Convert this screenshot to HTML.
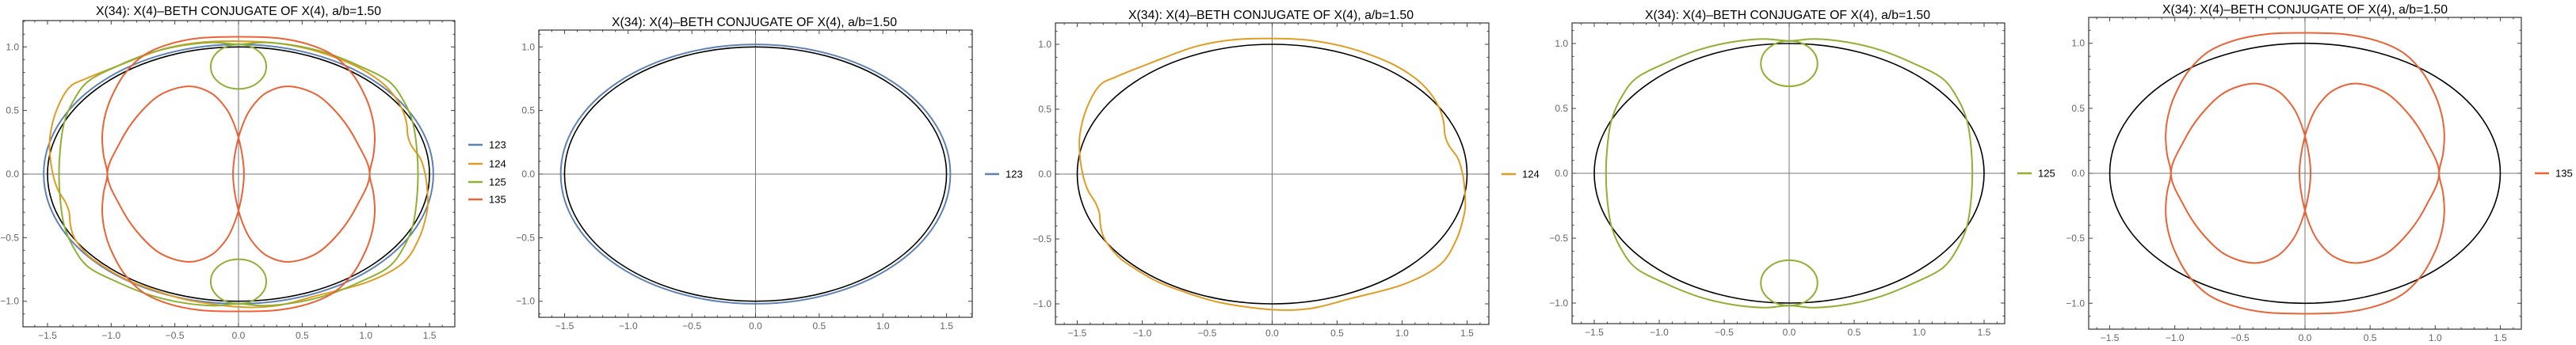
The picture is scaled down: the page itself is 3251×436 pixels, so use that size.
<!DOCTYPE html>
<html><head><meta charset="utf-8"><style>
html,body{margin:0;padding:0;background:#fff;}
svg{display:block;}
text{font-family:"Liberation Sans",sans-serif;}
</style></head><body>
<svg id="chart" width="3251" height="436" viewBox="0 0 3251 436" xmlns="http://www.w3.org/2000/svg"></svg>
<script>
// ---- data ----
const titleText = "X(34): X(4)\u2013BETH CONJUGATE OF X(4), a/b=1.50";
const seriesNames = ["123", "124", "125", "135"];
const seriesColors = {"123": "#5E81B5", "124": "#E19C24", "125": "#8FB032", "135": "#EB6235"};
const baseEllipse = [1.5, 1.0];
const ellipse123 = [1.53, 1.02];
const curve124 = [[1.466,0],[1.43,0.12],[1.36,0.22],[1.33,0.3],[1.32,0.4],[1.29,0.5],[1.22,0.62],[1.1,0.74],[0.9,0.86],[0.6,0.97],[0.3,1.03],[0,1.045],[-0.3,1.035],[-0.6,0.98],[-0.95,0.85],[-1.2,0.75],[-1.33,0.68],[-1.43,0.5],[-1.48,0.3],[-1.48,0.15],[-1.458,0],[-1.42,-0.12],[-1.36,-0.22],[-1.33,-0.3],[-1.32,-0.4],[-1.29,-0.5],[-1.2,-0.62],[-1.1,-0.7],[-0.9,-0.82],[-0.7,-0.9],[-0.4,-0.99],[0,-1.045],[0.3,-1.035],[0.6,-0.96],[1.01,-0.85],[1.29,-0.7],[1.42,-0.5],[1.48,-0.3],[1.486,-0.2],[1.48,-0.1]];
const curve125Outer = [[0,1.02],[0.2,1.035],[0.45,1.01],[0.7,0.95],[0.95,0.85],[1.18,0.73],[1.3,0.57],[1.37,0.4],[1.40,0.2],[1.41,0],[1.40,-0.2],[1.37,-0.4],[1.3,-0.57],[1.18,-0.73],[0.95,-0.85],[0.7,-0.95],[0.45,-1.01],[0.2,-1.035],[0,-1.02],[-0.2,-1.035],[-0.45,-1.01],[-0.7,-0.95],[-0.95,-0.85],[-1.18,-0.73],[-1.3,-0.57],[-1.37,-0.4],[-1.40,-0.2],[-1.41,0],[-1.40,0.2],[-1.37,0.4],[-1.3,0.57],[-1.18,0.73],[-0.95,0.85],[-0.7,0.95],[-0.45,1.01],[-0.2,1.035]];
const loops125 = [[0, 0.845, 0.218, 0.175], [0, -0.845, 0.218, 0.175]];
const curve135Outer = [[0,1.08],[0.3,1.07],[0.55,1.02],[0.75,0.93],[0.9,0.78],[1.0,0.6],[1.05,0.45],[1.07,0.3],[1.06,0.15],[1.03,0],[1.06,-0.15],[1.07,-0.3],[1.05,-0.45],[1.0,-0.6],[0.9,-0.78],[0.75,-0.93],[0.55,-1.02],[0.3,-1.07],[0,-1.08],[-0.3,-1.07],[-0.55,-1.02],[-0.75,-0.93],[-0.9,-0.78],[-1.0,-0.6],[-1.05,-0.45],[-1.07,-0.3],[-1.06,-0.15],[-1.03,0],[-1.06,0.15],[-1.07,0.3],[-1.05,0.45],[-1.0,0.6],[-0.9,0.78],[-0.75,0.93],[-0.55,1.02],[-0.3,1.07]];
const curve135RightLobe = [[1.03,0],[0.93,0.25],[0.8,0.45],[0.62,0.62],[0.4,0.69],[0.22,0.64],[0.1,0.52],[0.03,0.38],[-0.02,0.2],[-0.043,0],[-0.02,-0.2],[0.03,-0.38],[0.1,-0.52],[0.22,-0.64],[0.4,-0.69],[0.62,-0.62],[0.8,-0.45],[0.93,-0.25]];
const curve135LeftLobe = [[-1.03,0],[-0.93,0.25],[-0.8,0.45],[-0.62,0.62],[-0.4,0.69],[-0.22,0.64],[-0.1,0.52],[-0.03,0.38],[0.02,0.2],[0.043,0],[0.02,-0.2],[-0.03,-0.38],[-0.1,-0.52],[-0.22,-0.64],[-0.4,-0.69],[-0.62,-0.62],[-0.8,-0.45],[-0.93,-0.25]];
const panelSeries = [["123","124","125","135"],["123"],["124"],["125"],["135"]];

// ---- layout ----
const panels = [
 {L:29,R:574,T:26,B:413,x0:301,y0:220,s:160.7,lx:591,ly:[183,207,230,252],tx:301,ty:19},
 {L:680,R:1227,T:38,B:401,x0:953.5,y0:220,s:160.7,lx:1243,ly:[220],tx:952,ty:33},
 {L:1332,R:1879,T:29,B:410,x0:1605.5,y0:220,s:164,lx:1895,ly:[220],tx:1604,ty:24},
 {L:1984,R:2530,T:29,B:409,x0:2258,y0:219,s:164,lx:2546,ly:[219],tx:2256,ty:24},
 {L:2636,R:3182,T:22,B:416,x0:2909,y0:219,s:164.3,lx:3199,ly:[219],tx:2909,ty:17}
];
const NS = "http://www.w3.org/2000/svg";
const svg = document.getElementById("chart");
function mk(tag, attrs, parent){const e=document.createElementNS(NS,tag);for(const k in attrs)e.setAttribute(k,attrs[k]);parent.appendChild(e);return e;}
function smoothClosed(pts, X, Y){
  const n=pts.length;const P=pts.map(p=>[X(p[0]),Y(p[1])]);
  let d="M"+P[0][0].toFixed(2)+","+P[0][1].toFixed(2);
  for(let i=0;i<n;i++){const p0=P[(i-1+n)%n],p1=P[i],p2=P[(i+1)%n],p3=P[(i+2)%n];
    const c1=[p1[0]+(p2[0]-p0[0])/6,p1[1]+(p2[1]-p0[1])/6],c2=[p2[0]-(p3[0]-p1[0])/6,p2[1]-(p3[1]-p1[1])/6];
    d+="C"+c1[0].toFixed(2)+","+c1[1].toFixed(2)+" "+c2[0].toFixed(2)+","+c2[1].toFixed(2)+" "+p2[0].toFixed(2)+","+p2[1].toFixed(2);}
  return d+"Z";
}
function fmt(v){const s=Math.abs(v).toFixed(1);return (v<-1e-9?"\u2212":"")+s;}

panels.forEach((p,pi)=>{
  const g=mk("g",{},svg);
  
  
  const X=v=>p.x0+v*p.s, Y=v=>p.y0-v*p.s;
  const title=mk("text",{x:p.tx,y:p.ty,"text-anchor":"middle","font-size":"16",fill:"#000",textLength:"360",lengthAdjust:"spacingAndGlyphs"},g);
  title.textContent=titleText;
  
  
  const xa=mk("line",{x1:p.L,x2:p.R,y1:p.y0,y2:p.y0,stroke:"#777","stroke-width":1},g);
  
  
  const ya=mk("line",{x1:p.x0,x2:p.x0,y1:p.T,y2:p.B,stroke:"#777","stroke-width":1},g);
  
  
  const xmin=(p.L-p.x0)/p.s,xmax=(p.R-p.x0)/p.s,ymin=(p.y0-p.B)/p.s,ymax=(p.y0-p.T)/p.s;
  let td="";
  for(let i=Math.ceil(xmin*10);i<=Math.floor(xmax*10);i++){const maj=i%5===0,len=maj?5:2.5,x=X(i/10);
    td+=`M${x},${p.B}v${-len}M${x},${p.T}v${len}`;
    if(maj){const t=mk("text",{x:x,y:p.B+15,"text-anchor":"middle","font-size":"12",fill:"#666"},g);t.textContent=fmt(i/10);
      
      }}
  for(let i=Math.ceil(ymin*10);i<=Math.floor(ymax*10);i++){const maj=i%5===0,len=maj?5:2.5,y=Y(i/10);
    td+=`M${p.L},${y}h${len}M${p.R},${y}h${-len}`;
    if(maj){const t=mk("text",{x:p.L-5,y:y+4,"text-anchor":"end","font-size":"12",fill:"#666"},g);t.textContent=fmt(i/10);
      
      }}
  const tk=mk("path",{d:td,stroke:"#444","stroke-width":1,fill:"none"},g);
  
  
  const fr=mk("rect",{x:p.L,y:p.T,width:p.R-p.L,height:p.B-p.T,fill:"none",stroke:"#333","stroke-width":1.2},g);
  
  
  const be=mk("ellipse",{cx:X(0),cy:Y(0),rx:baseEllipse[0]*p.s,ry:baseEllipse[1]*p.s,fill:"none",stroke:"#000","stroke-width":1.6},g);
  
  
  const draw=(d,name,col)=>{const e=mk("path",{d:d,fill:"none",stroke:col,"stroke-width":2},g);
    
    };
  panelSeries[pi].forEach((nm,k)=>{
    const col=seriesColors[nm];
    if(nm==="123"){const e=mk("ellipse",{cx:X(0),cy:Y(0),rx:ellipse123[0]*p.s,ry:ellipse123[1]*p.s,fill:"none",stroke:col,"stroke-width":2},g);
      
      }
    if(nm==="124") draw(smoothClosed(curve124,X,Y),'curve-124',col);
    if(nm==="125"){draw(smoothClosed(curve125Outer,X,Y),'curve-125-outer',col);
      loops125.forEach(c=>{const e=mk("ellipse",{cx:X(c[0]),cy:Y(c[1]),rx:c[2]*p.s,ry:c[3]*p.s,fill:"none",stroke:col,"stroke-width":2},g);
        
        });}
    if(nm==="135"){draw(smoothClosed(curve135Outer,X,Y),'curve-135-outer',col);
      draw(smoothClosed(curve135RightLobe,X,Y),'curve-135-right-lobe',col);
      draw(smoothClosed(curve135LeftLobe,X,Y),'curve-135-left-lobe',col);}
    const ly=p.ly[k];
    const lg=mk("g",{},g);
    
    
    mk("line",{x1:p.lx,x2:p.lx+18,y1:ly,y2:ly,stroke:col,"stroke-width":2.5},lg);
    const lt=mk("text",{x:p.lx+26,y:ly+4.5,"font-size":"13",fill:"#000"},lg);
    lt.textContent=nm;
  });
});
</script>
</body></html>
